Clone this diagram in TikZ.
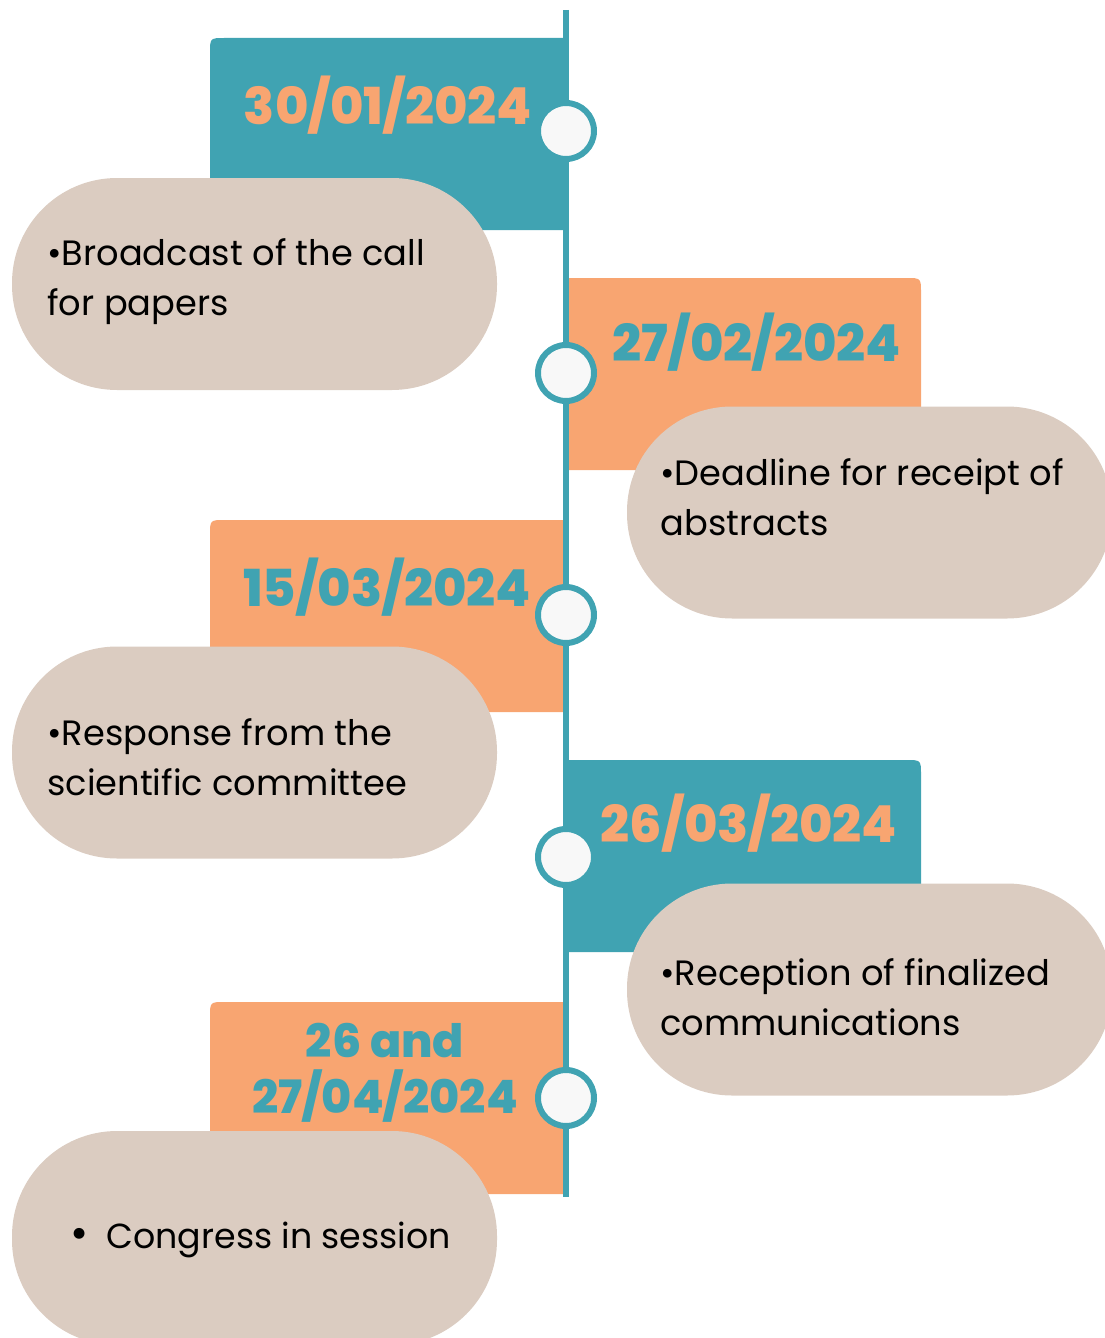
\documentclass[tikz,border=0pt]{standalone}
\usepackage{fontspec}
\setmainfont{Poppins}
\newfontfamily\dayfont{Poppins ExtraBold}
\usetikzlibrary{positioning}
\definecolor{tealc}{HTML}{40A3B2}
\definecolor{peach}{HTML}{F8A571}
\definecolor{sand}{HTML}{DBCCC1}
\definecolor{dotfill}{HTML}{F8F8F8}
\tikzset{pill/.style={fill=sand, rounded corners=52.5pt, minimum width=242.5pt, minimum height=106pt, inner sep=0pt},
        note/.style={anchor=west, align=left, inner sep=0pt, font=\fontsize{17.6}{25}\selectfont},
        day/.style={align=center, inner sep=0pt, font=\fontsize{25.5}{28}\dayfont},
        dot/.style={circle, minimum size=28pt, inner sep=0pt, draw=tealc, line width=3pt, fill=dotfill},
        spine/.style={draw=tealc, line width=3pt}}

\begin{document}
\begin{tikzpicture}[x=0.5pt, y=-0.5pt]
    \useasboundingbox (0,0) rectangle (1104,1338);

    % date boxes left of the line
    \foreach \y/\col in {38/tealc, 520/peach, 1002/peach}
      \fill[\col] (566,\y+192) -- (210,\y+192) -- (210,\y+15) .. controls (210,\y) .. (225,\y) -- (566,\y) -- cycle;
    % date boxes right of the line
    \foreach \y/\col in {278/peach, 760/tealc}
      \fill[\col] (566,\y) -- (906,\y) .. controls (921,\y) .. (921,\y+15) -- (921,\y+192) -- (566,\y+192) -- cycle;

    % dates
    \node[day, text=peach] (d1) at (388,105) {30/01/2024};
    \node[day, text=tealc] (d2) at (757,342) {27/02/2024};
    \node[day, text=tealc] (d3) at (387,587) {15/03/2024};
    \node[day, text=peach] (d4) at (749,823) {26/03/2024};
    \node[day, text=tealc, font=\fontsize{23}{28}\dayfont] (d5) at (385,1073) {26 and\\27/04/2024};

    % pills with the steps
    \node[pill] (p1) at (254.5,284) {};
    \node[pill] (p2) at (869.5,512.5) {};
    \node[pill] (p3) at (254.5,752.5) {};
    \node[pill] (p4) at (869.5,989.5) {};
    \node[pill, minimum height=107pt] (p5) at (254.5,1238) {};

    \node[note] (n1) at (47,282) {\textbullet Broadcast of the call\\for papers};
    \node[note] (n2) at (660,497) {\textbullet Deadline for receipt of\\abstracts};
    \node[note] (n3) at (47,757) {\textbullet Response from the\\scientific committee};
    \node[note] (n4) at (660,997) {\textbullet Reception of finalized\\communications};
    \node[note, font=\fontsize{17.4}{25}\selectfont] (n5) at (70,1240) {{\fontsize{22}{22}\selectfont\textbullet}\hspace{9pt}Congress in session};

    % the time line
    \coordinate (top) at (566,10);
    \coordinate (bottom) at (566,1197);
    \draw[spine] (top) -- (bottom);
    \foreach \y [count=\i] in {131,373,615,857,1098}
      \node[dot] (c\i) at (566,\y) {};
\end{tikzpicture}
\end{document}
